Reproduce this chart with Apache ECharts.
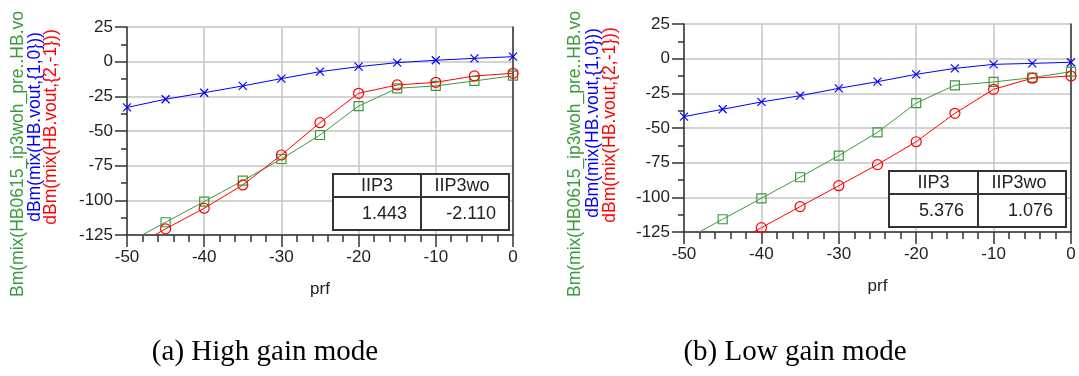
<!DOCTYPE html>
<html>
<head>
<meta charset="utf-8">
<script src="https://cdn.jsdelivr.net/npm/echarts@6/dist/echarts.min.js"></script>
<style>
    html, body { margin: 0; padding: 0; background: #fff; }
    #chart { width: 1079px; height: 376px; }
</style>
</head>
<body>
<div id="chart"></div>
<script>
var prf = [-50, -45, -40, -35, -30, -25, -20, -15, -10, -5, 0];

// (a) high gain mode
var highFund = [-33, -27.1, -22.4, -17.5, -12.2, -7.2, -3.6, -0.7, 1, 2.4, 3.6];
var highIm3 = [-136, -120.6, -105.7, -88.9, -67.3, -44, -22.8, -16.8, -14.9, -10.3, -8.4];
var highIm3wo = [-131, -115.8, -100.9, -85.8, -70.2, -52.9, -32, -19.2, -17.5, -13.9, -10.1];

// (b) low gain mode
var lowFund = [-41.8, -36.5, -31.2, -26.7, -21.4, -16.6, -11.3, -7, -4.1, -3.4, -2.6];
var lowIm3 = [-152, -137, -121.9, -106.7, -91.6, -76.4, -59.9, -39.4, -22.1, -14.1, -12.5];
var lowIm3wo = [-131, -115.8, -100.7, -85.5, -69.9, -53.1, -32, -19.2, -16.8, -13.7, -9.4];

var xMin = -50, xMax = 0, xStep = 10;
var yMin = -125, yMax = 25, yStep = 25;

var tableHead = ['IIP3', 'IIP3wo'];
var highTable = ['1.443', '-2.110'];
var lowTable = ['5.376', '1.076'];

var captions = ['(a) High gain mode', '(b) Low gain mode'];
var nameGreen = 'Bm(mix(HB0615_ip3woh_pre..HB.vo';
var nameBlue = 'dBm(mix(HB.vout,{1,0}))';
var nameRed = 'dBm(mix(HB.vout,{2,-1}))';

var SANS = '"Liberation Sans", Arial, sans-serif';
var SERIF = '"Liberation Serif", "Times New Roman", serif';
var GREEN = '#3a9a3a', BLUE = '#0000ff', RED = '#ff0000';
var CROSS = 'path://M0,0L10,10M10,0L0,10';

var zip = function (ys) {
    return prf.map(function (x, i) { return [x, ys[i]]; });
};

var makeX = function (idx) {
    return {
        gridIndex: idx, type: 'value', min: xMin, max: xMax, interval: xStep,
        name: 'prf', nameLocation: 'middle', nameGap: 46,
        nameTextStyle: { fontFamily: SANS, fontSize: 17, color: '#222' },
        axisLine: { show: true, onZero: false, lineStyle: { color: '#333', width: 1.5 } },
        axisTick: { show: true, length: 12, lineStyle: { color: '#333', width: 1.5 } },
        minorTick: { show: true, splitNumber: 5, length: 7, lineStyle: { color: '#333', width: 1.5 } },
        axisLabel: { margin: 14, fontFamily: SANS, fontSize: 17, color: '#222' },
        splitLine: { show: true, lineStyle: { color: '#c4c4c4', width: 1.5 } }
    };
};

var makeY = function (idx) {
    return {
        gridIndex: idx, type: 'value', min: yMin, max: yMax, interval: yStep,
        axisLine: { show: true, onZero: false, lineStyle: { color: '#333', width: 1.5 } },
        axisTick: { show: true, length: 12, lineStyle: { color: '#333', width: 1.5 } },
        minorTick: { show: true, splitNumber: 2, length: 6, lineStyle: { color: '#333', width: 1.5 } },
        axisLabel: { margin: 14, fontFamily: SANS, fontSize: 17, color: '#222' },
        splitLine: { show: true, lineStyle: { color: '#c4c4c4', width: 1.5 } }
    };
};

var makeRightY = function (idx) {
    return {
        gridIndex: idx, type: 'value', min: yMin, max: yMax, position: 'right',
        axisLine: { show: true, onZero: false, lineStyle: { color: '#333', width: 1.5 } },
        axisTick: { show: false }, axisLabel: { show: false }, splitLine: { show: false }
    };
};

var makeSeries = function (idx, data, color, symbol, size) {
    return {
        type: 'line', xAxisIndex: idx, yAxisIndex: idx * 2, data: zip(data),
        symbol: symbol, symbolSize: size, clip: true, animation: false,
        lineStyle: { color: color, width: 1 },
        itemStyle: { color: 'rgba(0,0,0,0)', borderColor: color, borderWidth: 1.2 },
        z: 3
    };
};

var makeTable = function (box, values) {
    var x = box.x, y = box.y, w = box.w, h = box.h, cx = box.col, ry = box.row;
    var line = function (x1, y1, x2, y2) {
        return { type: 'line', shape: { x1: x1, y1: y1, x2: x2, y2: y2 },
                 style: { stroke: '#333', lineWidth: 2 }, z: 10 };
    };
    var txt = function (s, tx, ty, align) {
        return { type: 'text', z: 11, style: { text: s, x: tx, y: ty, textAlign: align,
                 textVerticalAlign: 'middle', fill: '#222', font: '18px ' + SANS } };
    };
    return [
        { type: 'rect', shape: { x: x, y: y, width: w, height: h },
          style: { fill: '#fff', stroke: '#333', lineWidth: 2 }, z: 9 },
        line(x, ry, x + w, ry),
        line(cx, y, cx, y + h),
        txt(tableHead[0], (x + cx) / 2, (y + ry) / 2 + 1, 'center'),
        txt(tableHead[1], (cx + x + w) / 2 - 3, (y + ry) / 2 + 1, 'center'),
        txt(values[0], cx - 14, (ry + y + h) / 2 + 1, 'right'),
        txt(values[1], x + w - 13, (ry + y + h) / 2 + 1, 'right')
    ];
};

var vText = function (s, x, y, color) {
    return { type: 'text', x: x, y: y, rotation: Math.PI / 2, z: 5,
             style: { text: s, x: 0, y: 0, textAlign: 'center', textVerticalAlign: 'middle',
                      fill: color, font: '17.5px ' + SANS } };
};

var capText = function (s, x) {
    return { type: 'text', z: 5, style: { text: s, x: x, y: 352, textAlign: 'center',
             textVerticalAlign: 'middle', fill: '#000', font: '29px ' + SERIF } };
};

var graphics = [
    vText(nameGreen, 18, 154, GREEN), vText(nameBlue, 35, 127, BLUE), vText(nameRed, 51, 127, RED),
    vText(nameGreen, 575, 154, GREEN), vText(nameBlue, 593, 123, BLUE), vText(nameRed, 610, 125, RED),
    capText(captions[0], 265), capText(captions[1], 795)
].concat(makeTable({ x: 333, y: 174, w: 176, h: 56, col: 421, row: 197 }, highTable))
 .concat(makeTable({ x: 889, y: 171, w: 177, h: 56, col: 978, row: 194 }, lowTable));

var myChart = echarts.init(document.getElementById('chart'), null, { renderer: 'canvas' });
myChart.setOption({
    backgroundColor: '#fff',
    animation: false,
    grid: [
        { left: 127, top: 27, width: 386, height: 208 },
        { left: 684, top: 24, width: 387, height: 208 }
    ],
    xAxis: [makeX(0), makeX(1)],
    yAxis: [makeY(0), makeRightY(0), makeY(1), makeRightY(1)],
    series: [
        makeSeries(0, highFund, BLUE, CROSS, 8),
        makeSeries(0, highIm3wo, GREEN, 'rect', 9),
        makeSeries(0, highIm3, RED, 'circle', 10),
        makeSeries(1, lowFund, BLUE, CROSS, 8),
        makeSeries(1, lowIm3wo, GREEN, 'rect', 9),
        makeSeries(1, lowIm3, RED, 'circle', 10)
    ],
    graphic: graphics
});
</script>
</body>
</html>
